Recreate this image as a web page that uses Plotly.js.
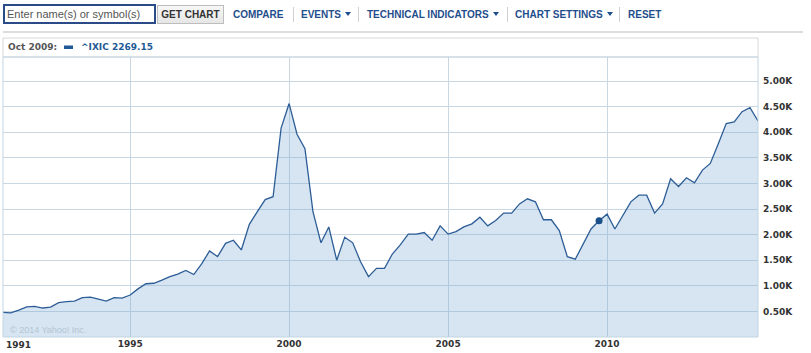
<!DOCTYPE html>
<html>
<head>
<meta charset="utf-8">
<script src="https://cdn.plot.ly/plotly-3.0.1.min.js"></script>
<style>
  html, body { margin:0; padding:0; background:#fff; width:811px; height:353px; overflow:hidden; }
  #chart { position:absolute; left:0; top:0; width:811px; height:353px; }
  #bar { position:absolute; left:0; top:0; width:811px; height:30px; z-index:10; font-family:"Liberation Sans", Arial, sans-serif; }
  .inp { position:absolute; left:3px; top:4px; width:147px; height:16px; border:2px solid #2b4b88; font-size:11px; line-height:16px; color:#555; padding-left:2px; background:#fff; }
  .btn { position:absolute; left:157px; top:5px; width:65px; height:17px; border:1px solid #bdbdbd; background:linear-gradient(#f7f7f7,#e6e6e6); font-size:10px; font-weight:bold; color:#333; text-align:center; line-height:17px; }
  .lnk { position:absolute; top:9px; font-size:10px; font-weight:bold; color:#1f4e8c; line-height:12px; white-space:nowrap; }
  .sep { position:absolute; top:7px; width:1px; height:15px; background:#d0d0d0; }
  .tri { display:inline-block; width:0; height:0; border-left:3.5px solid transparent; border-right:3.5px solid transparent; border-top:4px solid #1f4e8c; margin-left:4px; vertical-align:2px; }
</style>
</head>
<body>
<div id="chart"></div>
<div id="bar">
  <div class="inp">Enter name(s) or symbol(s)</div>
  <div class="btn">GET CHART</div>
  <span class="lnk" style="left:233px">COMPARE</span>
  <span class="sep" style="left:293px"></span>
  <span class="lnk" style="left:301px">EVENTS<i class="tri"></i></span>
  <span class="sep" style="left:358px"></span>
  <span class="lnk" style="left:367px">TECHNICAL INDICATORS<i class="tri"></i></span>
  <span class="sep" style="left:507px"></span>
  <span class="lnk" style="left:515px">CHART SETTINGS<i class="tri"></i></span>
  <span class="sep" style="left:619px"></span>
  <span class="lnk" style="left:628px">RESET</span>
</div>
<script>
// Quarterly NASDAQ (^IXIC) values, Jan 1991 .. Oct 2014
const firstYear = 1991;
const values = [
  480, 470, 527, 590, 600, 566, 585, 670,
  690, 700, 770, 780, 740, 700, 770, 760,
  820, 940, 1040, 1050, 1110, 1180, 1230, 1300,
  1220, 1430, 1680, 1570, 1830, 1890, 1700, 2200,
  2450, 2685, 2740, 4080, 4560, 3960, 3680, 2450,
  1840, 2150, 1500, 1950, 1840, 1470, 1180, 1340,
  1340, 1620, 1800, 2010, 2010, 2040, 1890, 2170,
  2010, 2060, 2150, 2210, 2340, 2170, 2275, 2420,
  2420, 2600, 2700, 2640, 2290, 2290, 2080, 1570,
  1520, 1810, 2110, 2269.15, 2400, 2110, 2360, 2640,
  2770, 2770, 2420, 2600, 3090, 2940, 3110, 3010,
  3260, 3390, 3770, 4170, 4200, 4400, 4480, 4220
];
const months = ['01','04','07','10'];
const dates = values.map((v, i) => (firstYear + Math.floor(i / 4)) + '-' + months[i % 4] + '-01');

const highlightDate = '2009-10-01';
const highlightLabel = 'Oct 2009:';
const symbol = '^IXIC';
const highlightValue = values[dates.indexOf(highlightDate)];

const xTickVals = ['1995-01-01', '2000-01-01', '2005-01-01', '2010-01-01'];
const xTickText = ['1995', '2000', '2005', '2010'];
const firstYearLabel = '1991';
const yTickVals = [500, 1000, 1500, 2000, 2500, 3000, 3500, 4000, 4500, 5000];
const yTickText = ['0.50K', '1.00K', '1.50K', '2.00K', '2.50K', '3.00K', '3.50K', '4.00K', '4.50K', '5.00K'];

// pixel helpers for decorations (plot area: x 3..758, y 57..337)
const W = 755, H = 280, L = 3, B = 337;
const px = x => (x - L) / W;
const py = y => (B - y) / H;

const lineColor = 'rgb(45,93,150)';
const gridColor = '#c9d7e3';
const tickFont = { family: 'DejaVu Sans', size: 9, color: '#333', weight: 'bold' };

const traces = [
  {
    x: dates, y: values, type: 'scatter', mode: 'lines',
    line: { color: lineColor, width: 1.3 },
    fill: 'tozeroy', fillcolor: 'rgba(120,170,210,0.3)',
    hoverinfo: 'x+y'
  },
  {
    x: [highlightDate], y: [highlightValue], type: 'scatter', mode: 'markers',
    marker: { color: 'rgb(26,79,138)', size: 7 },
    hoverinfo: 'skip'
  }
];

const layout = {
  width: 811, height: 353,
  margin: { l: 3, r: 53, t: 57, b: 16 },
  paper_bgcolor: '#fff', plot_bgcolor: '#fff',
  showlegend: false,
  xaxis: {
    type: 'date', range: ['1991-01-01', '2014-10-01'],
    tickvals: xTickVals, ticktext: xTickText,
    showgrid: true, gridcolor: gridColor, gridwidth: 1,
    zeroline: false, showline: false, ticks: '',
    tickfont: tickFont, fixedrange: true
  },
  yaxis: {
    side: 'right', range: [0, 5469],
    tickvals: yTickVals, ticktext: yTickText,
    showgrid: true, gridcolor: gridColor, gridwidth: 1,
    zeroline: false, showline: false, ticks: '',
    ticklabelstandoff: 4,
    tickfont: tickFont, fixedrange: true
  },
  shapes: [
    { type: 'line', xref: 'paper', yref: 'paper', x0: px(3), x1: px(803), y0: py(32), y1: py(32),
      line: { color: '#d2d2d2', width: 1.5 } },
    { type: 'rect', xref: 'paper', yref: 'paper', x0: 0, x1: 1, y0: 1, y1: py(38),
      line: { color: '#d4d8dc', width: 1 } },
    { type: 'rect', xref: 'paper', yref: 'paper', x0: 0, x1: 1, y0: 0, y1: 1,
      line: { color: '#c3d5e3', width: 1 } },
    { type: 'rect', xref: 'paper', yref: 'paper', x0: px(64), x1: px(73), y0: py(49), y1: py(45.5),
      line: { width: 0 }, fillcolor: 'rgb(31,90,150)' }
  ],
  annotations: [
    { xref: 'paper', yref: 'paper', x: px(6), y: py(47.5), xanchor: 'left', yanchor: 'middle',
      text: highlightLabel, showarrow: false,
      font: { family: 'DejaVu Sans', size: 9, color: '#555', weight: 'bold' } },
    { xref: 'paper', yref: 'paper', x: px(79), y: py(47.5), xanchor: 'left', yanchor: 'middle',
      text: symbol + ' ' + highlightValue.toFixed(2), showarrow: false,
      font: { family: 'DejaVu Sans', size: 9, color: 'rgb(31,90,150)', weight: 'bold' } },
    { xref: 'paper', yref: 'paper', x: px(8), y: py(330), xanchor: 'left', yanchor: 'middle',
      text: '© 2014 Yahoo! Inc.', showarrow: false,
      font: { family: 'Liberation Sans', size: 9, color: '#b3c4d3' } },
    { xref: 'paper', yref: 'paper', x: px(18), y: py(345), xanchor: 'center', yanchor: 'middle',
      text: firstYearLabel, showarrow: false, font: tickFont }
  ]
};

Plotly.newPlot('chart', traces, layout, { displayModeBar: false, staticPlot: true });
</script>
</body>
</html>
